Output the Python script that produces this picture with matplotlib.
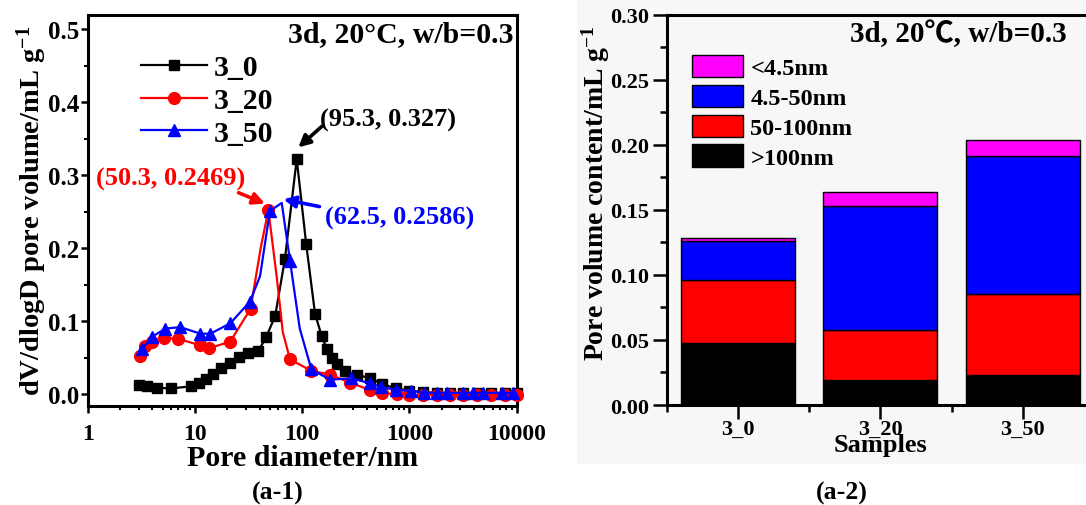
import matplotlib
matplotlib.use('Agg')
import matplotlib.pyplot as plt
from matplotlib.ticker import FixedLocator, LogLocator, MultipleLocator, NullFormatter, FormatStrFormatter
from matplotlib.patches import Rectangle, Patch

plt.rcParams['font.family'] = ['Liberation Serif', 'DejaVu Serif']
plt.rcParams['font.weight'] = 'bold'
plt.rcParams['axes.labelweight'] = 'bold'
plt.rcParams['mathtext.fontset'] = 'custom'
plt.rcParams['mathtext.rm'] = 'Liberation Serif:bold'
plt.rcParams['mathtext.default'] = 'rm'

# (a-1) pore size distribution
d_3_0 = [3.0, 3.6, 4.4, 6.0, 9.2, 11.0, 12.8, 14.8, 17.6, 21.2, 25.5, 31.5, 39.0, 46.0,
         56.0, 69.0, 89.0, 109.0, 132.0, 152.0, 170.0, 190.0, 212.0, 252.0, 322.0, 430.0,
         560.0, 750.0, 1000.0, 1350.0, 1800.0, 2400.0, 3200.0, 4300.0, 5800.0, 7800.0, 10000.0]
v_3_0 = [0.013, 0.011, 0.009, 0.008, 0.011, 0.015, 0.021, 0.028, 0.036, 0.043, 0.051, 0.056, 0.059, 0.078,
         0.107, 0.185, 0.322, 0.206, 0.110, 0.080, 0.062, 0.050, 0.041, 0.032, 0.027, 0.022,
         0.014, 0.008, 0.005, 0.003, 0.002, 0.002, 0.002, 0.002, 0.002, 0.002, 0.002]

d_3_20 = [3.1, 3.4, 4.0, 5.1, 7.0, 11.2, 13.4, 21.3, 33.0, 41.0, 48.4, 58.0, 66.0, 77.0,
          122.0, 183.0, 278.0, 430.0, 555.0, 760.0, 1000.0, 1350.0, 1800.0, 2400.0, 3200.0,
          4300.0, 5800.0, 7800.0, 10000.0]
v_3_20 = [0.053, 0.066, 0.071, 0.077, 0.076, 0.067, 0.063, 0.072, 0.117, 0.200, 0.252, 0.160, 0.085, 0.048,
          0.032, 0.027, 0.016, 0.006, 0.002, 0.000, -0.001, -0.001, -0.001, -0.001, -0.001,
          -0.001, -0.001, -0.001, -0.001]

d_3_50 = [3.2, 4.0, 5.3, 7.3, 11.2, 13.9, 21.3, 32.6, 40.5, 50.0, 64.5, 77.0, 95.0, 122.0,
          183.0, 287.0, 430.0, 550.0, 750.0, 1040.0, 1380.0, 1800.0, 2270.0, 3150.0, 3950.0,
          4900.0, 7300.0, 9200.0]
v_3_50 = [0.062, 0.079, 0.090, 0.092, 0.083, 0.083, 0.097, 0.127, 0.162, 0.251, 0.262, 0.183, 0.090, 0.034,
          0.020, 0.022, 0.015, 0.010, 0.006, 0.005, 0.002, 0.002, 0.002, 0.002, 0.002,
          0.002, 0.002, 0.002]

# (a-2) pore volume content by size range
samples = ['3_0', '3_20', '3_50']
gt100 = [0.0477, 0.0193, 0.0227]
r50_100 = [0.0484, 0.0382, 0.0629]
r4_50 = [0.0301, 0.0955, 0.1059]
lt4_5 = [0.0023, 0.0108, 0.0123]

W, H = 1086, 506
fig = plt.figure(figsize=(W / 100, H / 100), dpi=100)
bg = Rectangle((577 / W, 1 - 465 / H), 1 - 577 / W, 465 / H, transform=fig.transFigure,
               facecolor='#f7f7f7', edgecolor='none', zorder=-5)
fig.patches.append(bg)

# ---------- left panel ----------
ax1 = fig.add_axes([87.8 / W, 1 - 407 / H, 428.7 / W, 391.5 / H])
ax1.set_xscale('log')
ax1.set_xlim(1, 10000)
ax1.set_ylim(-0.016, 0.52)

ax1.plot(d_3_0, v_3_0, color='black', marker='s', ms=7.5, lw=1.6, label='3_0', clip_on=False, zorder=3)
ax1.plot(d_3_20, v_3_20, color='red', marker='o', ms=8.5, lw=1.6, label='3_20', clip_on=False,
         markevery=[i for i in range(len(d_3_20)) if i not in (9, 11, 12)], zorder=4)
ax1.plot(d_3_50, v_3_50, color='blue', marker='^', ms=9, lw=1.6, label='3_50', clip_on=False,
         markevery=[i for i in range(len(d_3_50)) if i not in (8, 10, 12)], zorder=5)

ax1.xaxis.set_major_locator(FixedLocator([1, 10, 100, 1000, 10000]))
ax1.set_xticklabels(['1', '10', '100', '1000', '10000'])
ax1.xaxis.set_minor_locator(LogLocator(base=10, subs=range(2, 10)))
ax1.xaxis.set_minor_formatter(NullFormatter())
ax1.yaxis.set_major_locator(MultipleLocator(0.1))
ax1.yaxis.set_minor_locator(MultipleLocator(0.05))
ax1.yaxis.set_major_formatter(FormatStrFormatter('%.1f'))
ax1.tick_params(axis='x', which='major', direction='out', length=5, width=1.8, labelsize=17, pad=7)
ax1.tick_params(axis='y', which='major', direction='out', length=5, width=1.8, labelsize=18, pad=1)
ax1.tick_params(which='minor', direction='out', length=3, width=1.5)
for s in ax1.spines.values():
    s.set_linewidth(2.2)

ax1.set_xlabel('Pore diameter/nm', fontsize=21.5)
ax1.xaxis.set_label_coords(0.5, -0.096)
ax1.set_ylabel('dV/dlogD pore volume/mL g$^{-1}$', fontsize=20.5)
ax1.yaxis.set_label_coords(-0.09, 0.5)

ax1.text(0.992, 0.952, '3d, 20°C, w/b=0.3', transform=ax1.transAxes, ha='right', va='center', fontsize=21.5)

ax1.legend(loc='upper left', bbox_to_anchor=(141 / W, 1 - 55 / H), bbox_transform=fig.transFigure,
           frameon=False, fontsize=21.5, handlelength=2.2, handletextpad=0.25, labelspacing=0.2,
           borderpad=0, borderaxespad=0, numpoints=1)

arrow_kw = dict(arrowstyle='-|>,head_length=0.7,head_width=0.35', lw=2.6, shrinkA=0, shrinkB=0)
ax1.annotate('', xy=(92, 0.338), xytext=(153, 0.367), arrowprops=dict(color='black', **arrow_kw))
ax1.annotate('', xy=(45, 0.261), xytext=(25.5, 0.276), arrowprops=dict(color='red', **arrow_kw))
ax1.annotate('', xy=(67, 0.267), xytext=(145, 0.257), arrowprops=dict(color='blue', **arrow_kw))
ax1.text(147, 0.376, '(95.3, 0.327)', color='black', ha='left', va='center', fontsize=19)
ax1.text(5.95, 0.296, '(50.3, 0.2469)', color='red', ha='center', va='center', fontsize=19)
ax1.text(163, 0.2417, '(62.5, 0.2586)', color='blue', ha='left', va='center', fontsize=19)

# ---------- right panel ----------
ax2 = fig.add_axes([666.7 / W, 1 - 406 / H, 427.3 / W, 390.2 / H])
ax2.set_facecolor('none')
x = list(range(len(samples)))
ax2.bar(x, gt100, width=0.8, color='black', edgecolor='black', lw=1)
bottom = list(gt100)
ax2.bar(x, r50_100, width=0.8, bottom=bottom, color='#ff0000', edgecolor='black', lw=1)
bottom = [a + b for a, b in zip(bottom, r50_100)]
ax2.bar(x, r4_50, width=0.8, bottom=bottom, color='#0000ff', edgecolor='black', lw=1)
bottom = [a + b for a, b in zip(bottom, r4_50)]
ax2.bar(x, lt4_5, width=0.8, bottom=bottom, color='#ff00ff', edgecolor='black', lw=1)

ax2.set_xlim(-0.5, 2.5)
ax2.set_ylim(0, 0.30)
ax2.set_xticks(x)
ax2.set_xticklabels(samples)
ax2.xaxis.set_minor_locator(FixedLocator([-0.5, 0.5, 1.5, 2.5]))
ax2.yaxis.set_major_locator(MultipleLocator(0.05))
ax2.yaxis.set_minor_locator(MultipleLocator(0.025))
ax2.yaxis.set_major_formatter(FormatStrFormatter('%.2f'))
ax2.tick_params(axis='x', which='major', direction='out', length=10, width=1.8, labelsize=16, pad=0)
ax2.tick_params(axis='y', which='major', direction='out', length=10, width=1.8, labelsize=16, pad=3)
ax2.tick_params(which='minor', direction='out', length=5, width=1.8)
for s in ax2.spines.values():
    s.set_linewidth(2.2)

ax2.set_xlabel('Samples', fontsize=19)
ax2.xaxis.set_label_coords(0.5, -0.072)
ax2.set_ylabel('Pore volume content/mL g$^{-1}$', fontsize=20)
ax2.yaxis.set_label_coords(-0.128, 0.546)

ax2.text(0.936, 0.954, '3d, 20℃, w/b=0.3', transform=ax2.transAxes, ha='right', va='center', fontsize=21,
         family=['Liberation Serif', 'Noto Sans CJK SC'])

handles = [Patch(facecolor='#ff00ff', edgecolor='black'), Patch(facecolor='#0000ff', edgecolor='black'),
           Patch(facecolor='#ff0000', edgecolor='black'), Patch(facecolor='black', edgecolor='black')]
ax2.legend(handles, ['<4.5nm', '4.5-50nm', '50-100nm', '>100nm'], loc='upper left',
           bbox_to_anchor=(692 / W, 1 - 56 / H), bbox_transform=fig.transFigure, frameon=False,
           fontsize=17.5, handlelength=2.1, handleheight=1.03, handletextpad=0.3, labelspacing=0.22,
           borderpad=0, borderaxespad=0)

fig.text(278 / W, 1 - 493 / H, '(a-1)', ha='center', va='center', fontsize=18.5)
fig.text(842 / W, 1 - 493 / H, '(a-2)', ha='center', va='center', fontsize=18.5)

fig.savefig('out.png', dpi=100)
